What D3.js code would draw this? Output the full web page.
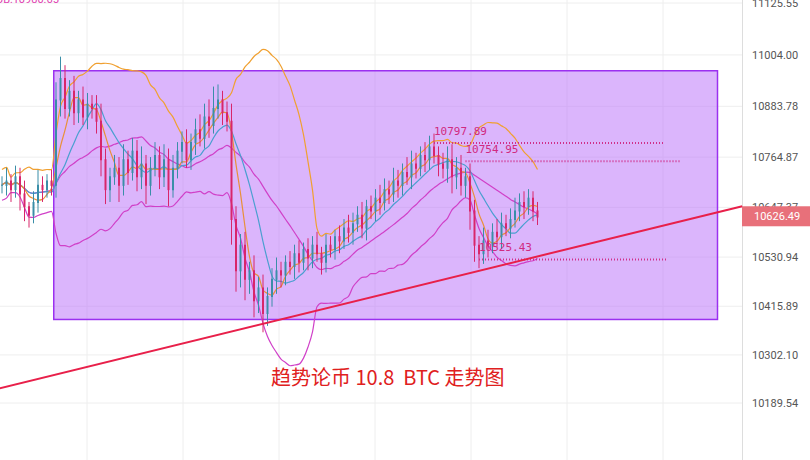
<!DOCTYPE html><html><head><meta charset="utf-8"><script src="https://cdn.jsdelivr.net/npm/d3@7"></script>
<style>body{margin:0;background:#fff}</style></head><body><svg id="c" width="810" height="460"></svg><script>
const yTicks=[11125.55,11004.00,10883.78,10764.87,10647.37,10530.94,10415.89,10302.10,10189.54];
const closes=[10700,10710,10690,10720,10680,10650,10630,10660,10700,10690,10710,10700,
10900,10950,10880,10920,10870,10900,10860,10890,10880,
10850,10760,10690,10720,
10740,10700,10760,10730,10780,10720,10750,10700,10740,10770,10720,10760,10690,10740,10780,10800,
10760,10800,10830,10810,10860,10840,10880,10900,10870,10850,
10620,10500,10560,
10480,10500,10430,10460,10400,10440,10480,10500,10490,
10520,10510,10540,10520,10550,10530,10560,10540,10520,10560,10550,10580,10570,
10600,10590,10610,10630,10600,10650,10640,10670,10660,10690,10680,10710,10700,
10730,10720,10750,10740,10770,10760,10790,10770,10750,10740,10760,
10720,10740,10700,10720,
10640,10560,10540,
10570,10560,10590,10580,10610,10600,10620,10640,
10660,10650,10670,10640,10626];
const wickUp=[20,30,15,25,20,30,10,25,35,20,15,25,40,50,30,25,35,20,30,25,20,30,40,25,20,30,25,35,20,30,25,40,20,25,30,20,35,25,30,20,25,30,20,25,35,30,40,50,35,20,25,40,30,25,30,20,35,25,30,20,25,30,20,15,25,20,30,15,25,20,30,15,25,20,15,25,20,30,25,20,30,15,25,20,30,25,20,30,25,20,35,30,25,20,30,25,30,20,25,30,35,25,30,20,30,25,20,30,25,20,30,25,20,25,30,20,25,20,15,20];
const wickDn=[20,25,30,20,40,35,30,20,25,30,20,25,30,40,25,20,30,25,20,30,25,30,40,35,30,20,40,25,30,20,35,30,45,25,20,30,25,40,20,25,30,20,25,30,20,25,30,20,25,30,25,60,50,40,50,35,40,30,45,30,25,35,30,25,20,30,25,20,30,25,20,30,25,20,25,30,20,25,30,20,25,30,20,25,30,20,25,20,30,25,20,30,25,20,30,25,20,30,25,35,40,30,25,30,45,40,35,25,30,20,25,30,20,25,20,25,30,20,25,20];
const levels=[{v:10797.89,i0:96,i1:147},{v:10754.95,i0:103,i1:151},{v:10525.43,i0:106,i1:148}];
const trend=[{i:-0.5,v:10224},{i:164.5,v:10650}];
const boxLo=10385, boxHi=10967, boxI0=11.5, boxI1=159;
const lastPrice=10626.49;
const title="趋势论币 10.8  BTC 走势图";

const svg=d3.select("#c");
const y=d3.scaleLinear().domain([11125.55,10189.54]).range([3,403]);
const x=d3.scaleLinear().domain([0,1]).range([2,6.5]);
const W=742;
const g=svg.append("g");
yTicks.forEach(t=>g.append("line").attr("x1",0).attr("x2",W).attr("y1",y(t)).attr("y2",y(t)).attr("stroke","#eeeeee"));
d3.range(87,W,96).forEach(v=>g.append("line").attr("x1",v).attr("x2",v).attr("y1",0).attr("y2",460).attr("stroke","#eeeeee"));
svg.append("line").attr("x1",W+0.5).attr("x2",W+0.5).attr("y1",0).attr("y2",460).attr("stroke","#dddddd");
svg.append("g").selectAll("text").data(yTicks).join("text").attr("x",752).attr("y",t=>y(t)+4)
 .attr("font-family","Roboto,sans-serif").attr("font-size",11).attr("fill","#555").text(t=>t.toFixed(2));
svg.append("rect").attr("x",x(boxI0)).attr("y",y(boxHi)).attr("width",x(boxI1)-x(boxI0)).attr("height",y(boxLo)-y(boxHi))
 .attr("fill","rgba(190,120,250,0.55)").attr("stroke","#9b30f0").attr("stroke-width",1.5);
const line=d3.line().defined(d=>d!=null).x((d,i)=>x(i)).y(d=>y(d)).curve(d3.curveMonotoneX);
const ma20full=closes.map((c,i)=>d3.mean(closes.slice(Math.max(0,i-19),i+1)));
const sdfull=closes.map((c,i)=>i<2?20:d3.deviation(closes.slice(Math.max(0,i-19),i+1)));
const up=ma20full.map((m,i)=>m+1.8*sdfull[i]), dn=ma20full.map((m,i)=>m-1.8*sdfull[i]);
const ma5=closes.map((c,i)=>d3.mean(closes.slice(Math.max(0,i-4),i+1)));
const ma10=closes.map((c,i)=>d3.mean(closes.slice(Math.max(0,i-9),i+1)));
[[up,"#f0a030"],[dn,"#d040c8"],[ma20full,"#d040c8"],[ma10,"#4a9fd0"],[ma5,"#e8903a"]].forEach(([d,c])=>
 svg.append("path").attr("d",line(d)).attr("fill","none").attr("stroke",c).attr("stroke-width",1.2));
const cg=svg.append("g");
closes.forEach((c,i)=>{const o=i?closes[i-1]:c;const upc=c>=o;const col=upc?"#3a8ea8":"#d8266a";
 cg.append("line").attr("x1",x(i)).attr("x2",x(i)).attr("y1",y(Math.max(o,c)+wickUp[i])).attr("y2",y(Math.min(o,c)-wickDn[i])).attr("stroke",col).attr("stroke-width",1);
 cg.append("line").attr("x1",x(i)).attr("x2",x(i)).attr("y1",y(Math.max(o,c))).attr("y2",y(Math.min(o,c))+1).attr("stroke",col).attr("stroke-width",2);
});
levels.forEach(l=>{svg.append("line").attr("x1",x(l.i0)).attr("x2",x(l.i1)).attr("y1",y(l.v)).attr("y2",y(l.v))
 .attr("stroke","#d0308a").attr("stroke-width",2).attr("stroke-dasharray","1,2");
 svg.append("text").attr("x",x(l.i0)).attr("y",y(l.v)-8).attr("font-family","DejaVu Sans Mono,monospace").attr("font-size",11).attr("fill","#d02a80").text(l.v.toFixed(2));});
svg.append("line").attr("x1",x(trend[0].i)).attr("y1",y(trend[0].v)).attr("x2",x(trend[1].i)).attr("y2",y(trend[1].v)).attr("stroke","#e8204a").attr("stroke-width",2);
svg.append("rect").attr("x",W).attr("y",y(lastPrice)-10).attr("width",68).attr("height",20).attr("fill","#e8707a");
svg.append("text").attr("x",754).attr("y",y(lastPrice)+4).attr("font-family","Roboto,sans-serif").attr("font-size",11).attr("fill","#fff").text(lastPrice.toFixed(2));
svg.append("text").attr("x",-4).attr("y",3).attr("font-family","Roboto,sans-serif").attr("font-size",11).attr("fill","#e040b0").text("UB:10980.65");
svg.append("text").attr("x",271).attr("y",385).attr("font-family","Noto Sans CJK SC,sans-serif").attr("font-size",20).attr("fill","#e02020").style("white-space","pre").text(title);
</script></body></html>
